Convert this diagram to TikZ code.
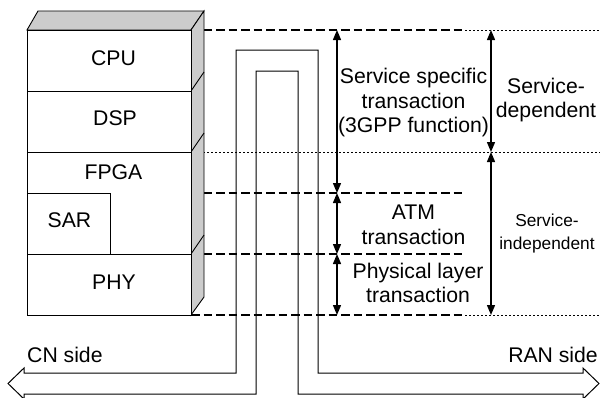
\documentclass[tikz,border=0pt]{standalone}
\usepackage{fontspec}
\setmainfont{Liberation Sans}
\usetikzlibrary{arrows.meta}
\tikzset{
  face/.style={draw=black, line width=0.9pt, fill=white},
  side/.style={draw=black, line width=0.9pt, fill=black!20},
  edge/.style={draw=black, line width=0.9pt},
  level/.style={line width=2.7pt, dash pattern=on 8.5pt off 4pt},
  guide/.style={line width=0.8pt, dash pattern=on 2pt off 2pt},
  span/.style={line width=1.4pt, {Triangle[length=10pt,width=8pt]}-{Triangle[length=10pt,width=8pt]}},
  pipe/.style={line width=1pt, line join=miter},
  lbl/.style={inner sep=0pt, font=\fontsize{21.2}{24.5}\selectfont, align=center},
  lblsmall/.style={inner sep=0pt, font=\fontsize{17.3}{23}\selectfont, align=center},
}
\begin{document}
\begin{tikzpicture}[x=1pt, y=-1pt]
\useasboundingbox (0,0) rectangle (600,397);

% level boundaries on the front face of the board stack
\coordinate (T)  at (191,30);   % top of CPU
\coordinate (B1) at (191,91);   % CPU / DSP
\coordinate (B2) at (191,152);  % DSP / FPGA
\coordinate (B3) at (191,193);  % top of SAR
\coordinate (B4) at (191,254);  % FPGA / PHY
\coordinate (B5) at (191,315);  % bottom of PHY
\coordinate (DE) at (465,0);    % end of the heavy dashed levels
\coordinate (RE) at (600,0);    % right border

% dashed and dotted level lines
\draw[level] (T)  -- (T -| DE);
\draw[guide] (T -| DE) -- (T -| RE);
\draw[guide] (B2) -- (B2 -| RE);
\draw[level] (B3) -- (B3 -| DE);
\draw[level] (B4) -- (B4 -| DE);
\draw[level] (B5) -- (B5 -| DE);
\draw[guide] (B5 -| DE) -- (B5 -| RE);

% 3-D board stack: top face, side face, front face
\draw[side] (27,30) -- (38,11) -- (204,11) -- (191,30) -- cycle;
\draw[side] (191,30) -- (204,11) -- (204,297) -- (191,315) -- cycle;
\draw[edge] (B1) -- (204,72);
\draw[edge] (B2) -- (204,133);
\draw[edge] (B4) -- (204,235);
\draw[face] (27,30) rectangle (B5);
\draw[edge] (27,91) -- (B1);
\draw[edge] (27,152) -- (B2);
\draw[edge] (27,254) -- (B4);
\draw[edge] (27,193) -- (110,193) -- (110,254);

\node[lbl] (cpu)  at (113.5,58.5) {CPU};
\node[lbl] (dsp)  at (115,118)    {DSP};
\node[lbl] (fpga) at (113.5,172)  {FPGA};
\node[lbl] (sar)  at (69.5,220.5) {SAR};
\node[lbl] (phy)  at (114,282.5)  {PHY};

% hollow two-way pipe between CN side and RAN side
\draw[pipe] (24,373) -- (24,368) -- (8,383.5) -- (24,399) -- (24,394)
  -- (256,394) -- (256,71) -- (298,71) -- (298,394) -- (583,394)
  -- (583,399) -- (599,383.5) -- (583,368) -- (583,373)
  -- (318,373) -- (318,50) -- (236,50) -- (236,373) -- cycle;

% span arrows
\coordinate (A) at (337,0);
\coordinate (C) at (491,0);
\draw[span] (A |- T)  -- (A |- B3);
\draw[span] (A |- B3) -- (A |- B4);
\draw[span] (A |- B4) -- (A |- B5);
\draw[span] (C |- T)  -- (C |- B2);
\draw[span] (C |- B2) -- (C |- B5);

% texts
\node[lbl] (svc)  at (413.5,103) {Service specific\\transaction\\(3GPP function)};
\node[lbl] (atm)  at (413.5,225) {ATM\\transaction};
\node[lbl] (phyt) at (418,283)   {Physical layer\\transaction};
\node[lbl] (dep)  at (546,100)   {Service-\\dependent};
\node[lblsmall] (indep) at (547,234) {Service-\\independent};
\node[lbl, anchor=base west] (cn)  at (27,362)  {CN side};
\node[lbl, anchor=base east] (ran) at (598,362) {RAN side};
\end{tikzpicture}
\end{document}
